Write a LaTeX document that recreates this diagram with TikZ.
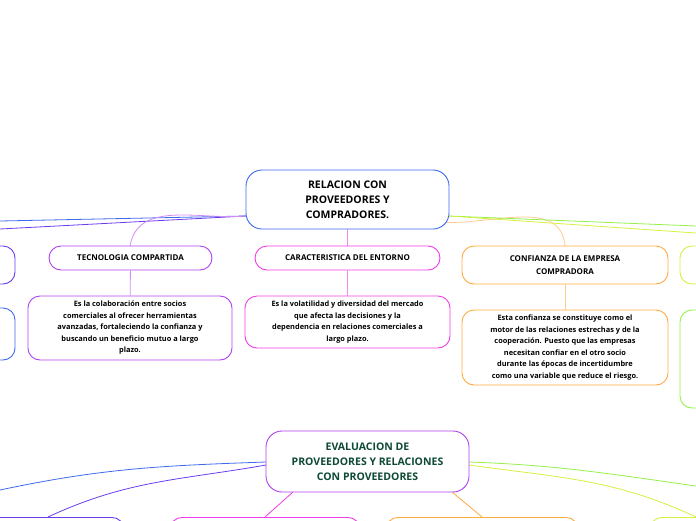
\documentclass[tikz,border=0pt]{standalone}
\usepackage{fontspec}
\setmainfont{Open Sans}
\usetikzlibrary{positioning}
\definecolor{cblue}{HTML}{3F6AF0}
\definecolor{cviolet}{HTML}{6A3CF0}
\definecolor{cpurple}{HTML}{B040F0}
\definecolor{cmagenta}{HTML}{F03CE8}
\definecolor{corange}{HTML}{FFAA40}
\definecolor{clime}{HTML}{D6F040}
\definecolor{cgreen}{HTML}{96F04A}
\definecolor{cdark}{HTML}{0E4A34}

\begin{document}
\begin{tikzpicture}[x=1pt, y=-1pt,
    base/.style = {rectangle, rounded corners=12pt, draw, line width=0.9pt,
fill=white, text centered, align=center, inner sep=2pt},
    topic/.style = {base, font=\fontsize{8}{13}\selectfont\bfseries},
    desc/.style = {base, font=\fontsize{7.4}{11.5}\selectfont\bfseries},
    main/.style = {base, rounded corners=16pt, font=\fontsize{10.5}{15}\selectfont\bfseries},
    link/.style = {line width=0.8pt}
]
  \useasboundingbox (0,0) rectangle (696,520);

  % connectors first, boxes drawn over them
  \coordinate (rl) at (246,216);
  \coordinate (rr) at (449,216);
  \draw[link, cblue] (rl) -- (0,221);
  \draw[link, cviolet] (rl) -- (0,229);
  \draw[link, cpurple!60] (rl) to[out=185, in=80] (130,246);
  \draw[link, cmagenta!60] (347.5,229) -- (347.5,246);
  \draw[link, corange!60] (440,222) to[out=-5, in=95] (565,246);
  \draw[link, cgreen] (rr) -- (696,226);
  \draw[link, clime] (rr) -- (696,233);

  \coordinate (el) at (266,462);
  \coordinate (er) at (469,462);
  \draw[link, cblue] (el) to[out=182, in=12] (0,490);
  \draw[link, cviolet] (el) ++(0,3) to[out=190, in=25] (48,517);
  \draw[link, cmagenta] (293,492) -- (265,517);
  \draw[link, corange] (452,492) -- (482,517);
  \draw[link, cgreen] (er) to[out=-2, in=172] (696,486);
  \draw[link, clime] (er) ++(0,3) to[out=-8, in=155] (696,517);

  % first map
  \node (root) [main, draw=cblue, minimum width=203pt, minimum height=59pt] at (347.5,199.5) {RELACION CON\\PROVEEDORES Y\\COMPRADORES.};

  \node (left1) [base, draw=cviolet, minimum width=80pt, minimum height=38pt] at (-25,265) {};
  \node (left2) [base, draw=cblue, minimum width=80pt, minimum height=52pt] at (-25,334) {};
  \node (tech) [topic, draw=cpurple, minimum width=163pt, minimum height=24pt] at (130.5,258) {TECNOLOGIA COMPARTIDA};
  \node (techd) [desc, draw=cpurple, minimum width=204pt, minimum height=64pt] at (130,328) {Es la colaboración entre socios\\comerciales al ofrecer herramientas\\avanzadas, fortaleciendo la confianza y\\buscando un beneficio mutuo a largo\\plazo.};
  \node (env) [topic, draw=cmagenta, minimum width=185pt, minimum height=24pt] at (347.5,258) {CARACTERISTICA DEL ENTORNO};
  \node (envd) [desc, draw=cmagenta, minimum width=205pt, minimum height=52pt] at (347.5,322) {Es la volatilidad y diversidad del mercado\\que afecta las decisiones y la\\dependencia en relaciones comerciales a\\largo plazo.};
  \node (trust) [topic, draw=corange, minimum width=206pt, minimum height=38pt] at (565,265) {CONFIANZA DE LA EMPRESA\\COMPRADORA};
  \node (trustd) [desc, draw=corange, minimum width=206pt, minimum height=75pt] at (565,347.5) {Esta confianza se constituye como el\\motor de las relaciones estrechas y de la\\cooperación. Puesto que las empresas\\necesitan confiar en el otro socio\\durante las épocas de incertidumbre\\como una variable que reduce el riesgo.};
  \node (right1) [base, draw=clime, minimum width=80pt, minimum height=38pt] at (720,265) {};
  \node (right2) [base, draw=cgreen, minimum width=80pt, minimum height=98pt] at (720,359) {};

  \draw[link, cpurple!60] (tech) -- (techd);
  \draw[link, cmagenta!60] (env) -- (envd);
  \draw[link, corange!60] (trust) -- (trustd);

  % second map
  \node (eval) [main, draw=cpurple, text=cdark, minimum width=203pt, minimum height=61pt] at (367.5,461.5) {EVALUACION DE\\PROVEEDORES Y RELACIONES\\CON PROVEEDORES};
  \node (low1) [base, draw=cviolet, minimum width=150pt, minimum height=30pt, anchor=north] at (49,517) {};
  \node (low2) [base, draw=cmagenta, minimum width=190pt, minimum height=30pt, anchor=north] at (265,517) {};
  \node (low3) [base, draw=corange, minimum width=192pt, minimum height=30pt, anchor=north] at (482,517) {};
  \node (low4) [base, draw=clime, minimum width=100pt, minimum height=30pt, anchor=north] at (700,517) {};
\end{tikzpicture}
\end{document}
